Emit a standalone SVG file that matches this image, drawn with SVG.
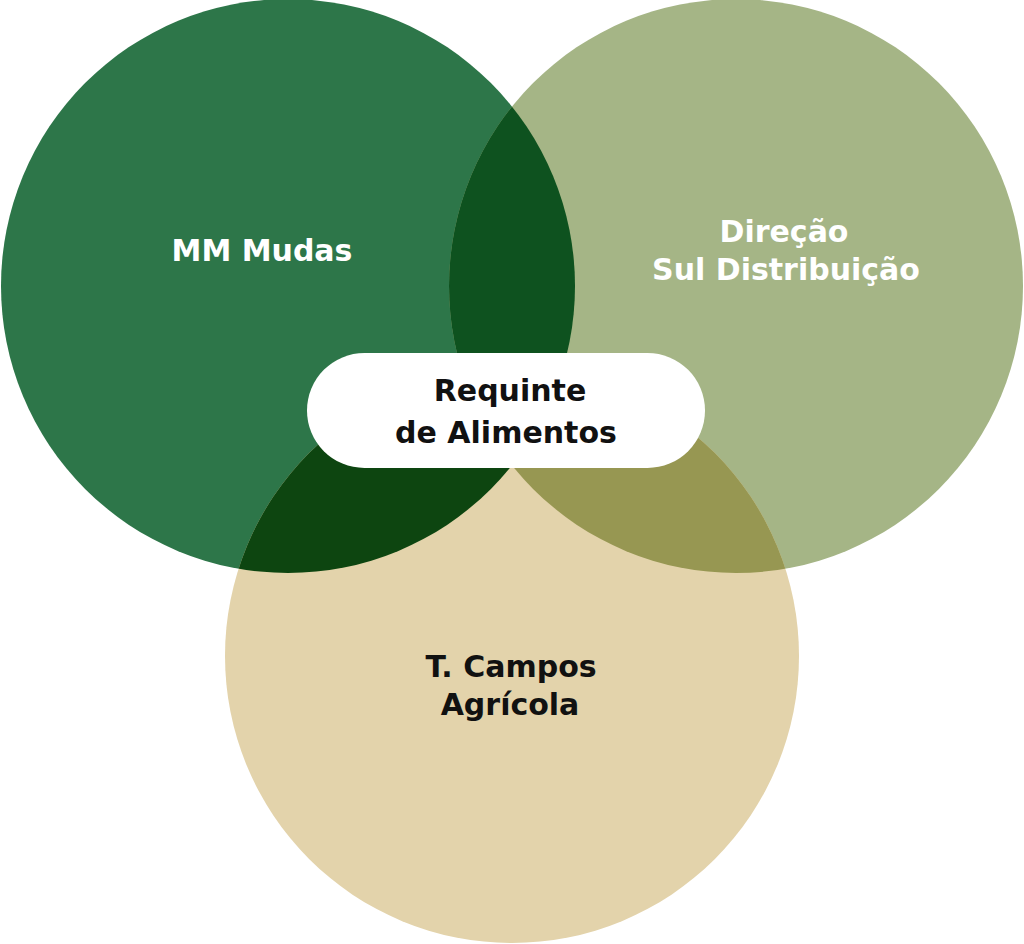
<svg xmlns="http://www.w3.org/2000/svg" width="1024" height="944" viewBox="0 0 1024 944">
  <style>
    .lbl { font-family: "DejaVu Sans", "Liberation Sans", sans-serif; font-weight: bold; font-size: 30px; text-anchor: middle; }
    .w { fill: #ffffff; }
    .k { fill: #111111; }
  </style>
  <defs>
    <clipPath id="clipC1"><circle cx="288" cy="286" r="287"/></clipPath>
    <clipPath id="clipC2"><circle cx="736" cy="286" r="287"/></clipPath>
  </defs>
  <rect width="1024" height="944" fill="#ffffff"/>
  <g id="circles">
    <circle id="c1" cx="288" cy="286" r="287" fill="#2d7649"/>
    <circle id="c2" cx="736" cy="286" r="287" fill="#a5b586"/>
    <circle id="c3" cx="512" cy="656" r="287" fill="#e3d3ab"/>
    <circle cx="736" cy="286" r="287" fill="#0e521f" clip-path="url(#clipC1)"/>
    <circle cx="512" cy="656" r="287" fill="#979752" clip-path="url(#clipC2)"/>
    <circle cx="512" cy="656" r="287" fill="#0d4510" clip-path="url(#clipC1)"/>
  </g>
  <g id="node-mm-mudas">
    <text class="lbl w" x="262" y="261">MM Mudas</text>
  </g>
  <g id="node-direcao">
    <text class="lbl w" x="784" y="242">Direção</text>
    <text class="lbl w" x="786" y="280">Sul Distribuição</text>
  </g>
  <g id="node-tcampos">
    <text class="lbl k" x="511" y="677">T. Campos</text>
    <text class="lbl k" x="510" y="715">Agrícola</text>
  </g>
  <g id="node-requinte">
    <rect x="307" y="353" width="398" height="115" rx="57.5" fill="#ffffff"/>
    <text class="lbl k" x="510" y="401">Requinte</text>
    <text class="lbl k" x="506" y="443">de Alimentos</text>
  </g>
</svg>
